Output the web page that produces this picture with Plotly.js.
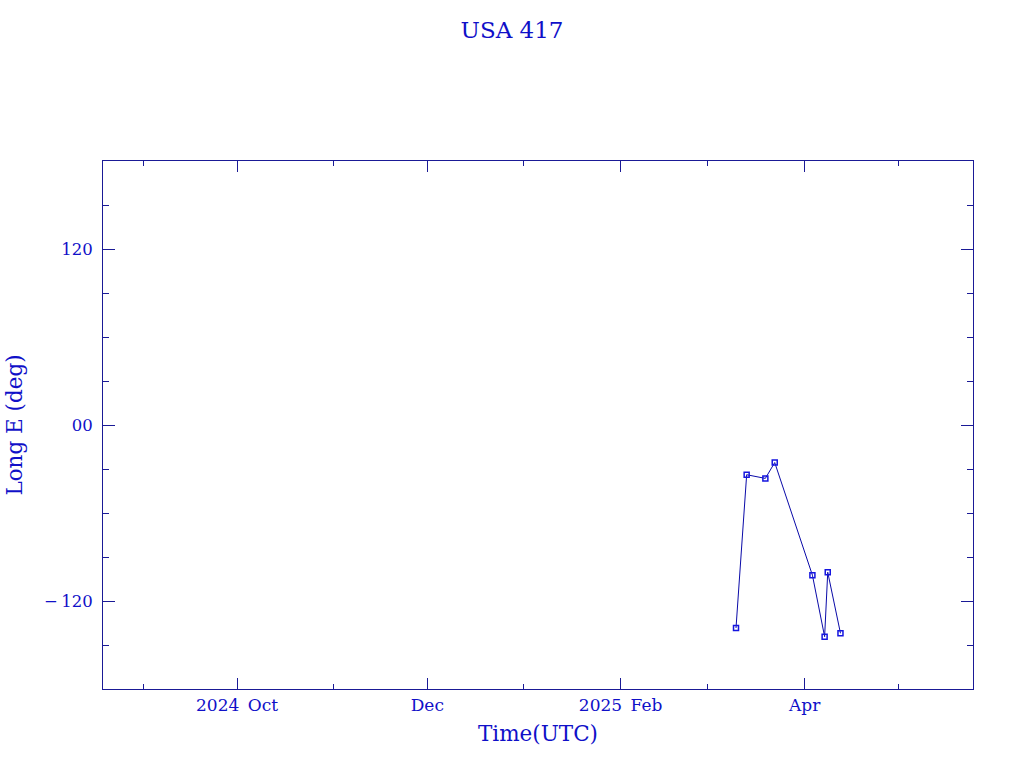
<!DOCTYPE html>
<html>
<head>
<meta charset="utf-8">
<script src="https://cdn.plot.ly/plotly-3.0.1.min.js"></script>
<style>html,body{margin:0;padding:0;background:#fff;}#chart{width:1024px;height:768px;}</style>
</head>
<body>
<div id="chart"></div>
<script>
const times = ['2025-03-10 00:00','2025-03-13 10:00','2025-03-19 10:00','2025-03-22 10:00','2025-04-03 12:00','2025-04-07 10:00','2025-04-08 10:00','2025-04-12 12:00'];
const longE = [-138.4, -33.9, -36.4, -25.6, -102.4, -144.3, -100.4, -142.0];
const xTickVals = ['2024-10-01','2024-12-01','2025-02-01','2025-04-01'];
const xTickText = ['2024\u2002Oct','Dec','2025\u2002Feb','Apr'];
const xMinorVals = ['2024-09-01','2024-11-01','2025-01-01','2025-03-01','2025-05-01'];
const yTickVals = [-120, 0, 120];
const yTickText = ['\u2212\u2009120', '00', '120'];
const yMinorVals = [-150, -90, -60, -30, 30, 60, 90, 150];

const axisColor = '#1a1a96';
const textColor = '#1010c8';
const font = {family: 'DejaVu Serif, Liberation Serif, serif', color: textColor};

const trace = {
  x: times, y: longE, type: 'scatter', mode: 'lines+markers',
  line: {color: '#0a0aa8', width: 1},
  marker: {symbol: 'square-open', size: 5, color: '#1515e0', line: {width: 1.5, color: '#1515e0'}},
  hoverinfo: 'x+y'
};

const layout = {
  width: 1024, height: 768,
  margin: {l: 103, r: 51, t: 161, b: 79, pad: 0},
  paper_bgcolor: '#ffffff', plot_bgcolor: '#ffffff',
  showlegend: false,
  title: {text: 'USA 417', font: Object.assign({size: 23}, font), x: 0.5, xanchor: 'center', y: 0.961, yanchor: 'middle'},
  xaxis: {
    type: 'date', range: ['2024-08-19', '2025-05-25'],
    tickmode: 'array', tickvals: xTickVals, ticktext: xTickText,
    ticks: 'inside', ticklen: 11, tickwidth: 1, tickcolor: axisColor,
    minor: {tickmode: 'array', tickvals: xMinorVals, ticks: 'inside', ticklen: 5, tickwidth: 1, tickcolor: axisColor, showgrid: false},
    showline: true, linecolor: axisColor, linewidth: 1, mirror: 'allticks',
    showgrid: false, zeroline: false,
    ticklabelstandoff: 1,
    tickfont: Object.assign({size: 17}, font),
    title: {text: 'Time(UTC)', font: Object.assign({size: 21.5}, font), standoff: 11}
  },
  yaxis: {
    range: [-180, 180],
    tickmode: 'array', tickvals: yTickVals, ticktext: yTickText,
    ticks: 'inside', ticklen: 12, tickwidth: 1, tickcolor: axisColor,
    minor: {tickmode: 'array', tickvals: yMinorVals, ticks: 'inside', ticklen: 6, tickwidth: 1, tickcolor: axisColor, showgrid: false},
    showline: true, linecolor: axisColor, linewidth: 1, mirror: 'allticks',
    showgrid: false, zeroline: false,
    ticklabelstandoff: 6,
    tickfont: Object.assign({size: 16.5}, font),
    title: {text: 'Long E (deg)', font: Object.assign({size: 21.5}, font), standoff: 15}
  }
};

Plotly.newPlot('chart', [trace], layout, {displayModeBar: false, staticPlot: true});
</script>
</body>
</html>
